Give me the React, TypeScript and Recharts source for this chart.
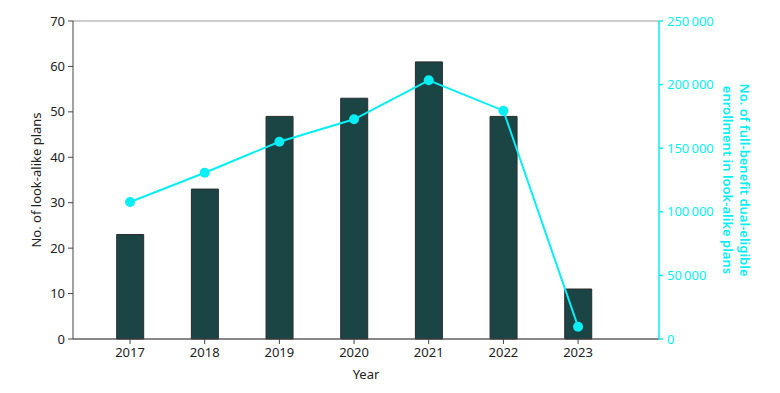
import {
  ComposedChart,
  Bar,
  Line,
  XAxis,
  YAxis,
  CartesianGrid,
  Label,
} from 'recharts';

const years = ['2017', '2018', '2019', '2020', '2021', '2022', '2023'];
const planCounts = [23, 33, 49, 53, 61, 49, 11];
const dualEnrollment = [107700, 130700, 155100, 172700, 203400, 179500, 9700];

const leftTicks = [0, 10, 20, 30, 40, 50, 60, 70];
const rightTicks = [0, 50000, 100000, 150000, 200000, 250000];

const data = years.map((year, i) => ({
  year,
  plans: planCounts[i],
  enrollment: dualEnrollment[i],
}));

const FONT = '"Noto Sans", sans-serif';
const CYAN = '#08eef4';
const BAR_FILL = '#1b4444';
const AXIS = '#444';

// 250000 -> "250 000" with a thin space as thousands separator
const formatThousands = (v: number) =>
  v === 0 ? '0' : `${Math.floor(v / 1000)}\u2009${String(v % 1000).padStart(3, '0')}`;

export default function App() {
  return (
    <div style={{ width: 780, height: 393 }}>
      <style>{'body{margin:0}'}</style>
      <ComposedChart
        width={780}
        height={393}
        data={data}
        margin={{ top: 21, right: 0, left: 0, bottom: 0 }}
        style={{ fontFamily: FONT }}
      >
        <CartesianGrid vertical={false} stroke="#bdbdbd" strokeWidth={1.5} />
        <XAxis
          dataKey="year"
          height={54}
          padding={{ left: 19.7, right: 43.6 }}
          stroke={AXIS}
          tick={{ fill: '#222', fontSize: 13 }}
          tickSize={5}
          tickMargin={4}
        >
          <Label value="Year" position="insideBottom" offset={14} fill="#222" fontSize={13} />
        </XAxis>
        <YAxis
          yAxisId="left"
          width={73}
          domain={[0, 70]}
          ticks={leftTicks}
          stroke={AXIS}
          tick={{ fill: '#222', fontSize: 13 }}
          tickSize={5}
          tickMargin={3}
          interval={0}
        >
          <Label
            content={() => (
              <text
                x={36}
                y={180}
                transform="rotate(-90 36 180)"
                textAnchor="middle"
                dominantBaseline="central"
                fill="#222"
                fontSize={13}
                fontFamily={FONT}
              >
                No. of look-alike plans
              </text>
            )}
          />
        </YAxis>
        <YAxis
          yAxisId="right"
          orientation="right"
          width={121}
          domain={[0, 250000]}
          ticks={rightTicks}
          interval={0}
          stroke={CYAN}
          strokeWidth={1.5}
          tick={{ fill: CYAN, fontSize: 13 }}
          tickSize={4}
          tickMargin={4}
          tickFormatter={formatThousands}
        >
          <Label
            content={() => (
              <g fill={CYAN} fontSize={13} fontWeight={600} fontFamily={FONT}>
                <text
                  x={745}
                  y={180}
                  transform="rotate(90 745 180)"
                  textAnchor="middle"
                  dominantBaseline="central"
                >
                  No. of full-benefit dual-eligible
                </text>
                <text
                  x={728}
                  y={180}
                  transform="rotate(90 728 180)"
                  textAnchor="middle"
                  dominantBaseline="central"
                >
                  enrollment in look-alike plans
                </text>
              </g>
            )}
          />
        </YAxis>
        <Bar
          yAxisId="left"
          dataKey="plans"
          barSize={27}
          fill={BAR_FILL}
          stroke="#2b2b2b"
          strokeWidth={1}
          isAnimationActive={false}
        />
        <Line
          yAxisId="right"
          dataKey="enrollment"
          stroke={CYAN}
          strokeWidth={2}
          dot={{ r: 5, fill: CYAN, stroke: CYAN, strokeWidth: 0 }}
          activeDot={false}
          isAnimationActive={false}
        />
      </ComposedChart>
    </div>
  );
}
